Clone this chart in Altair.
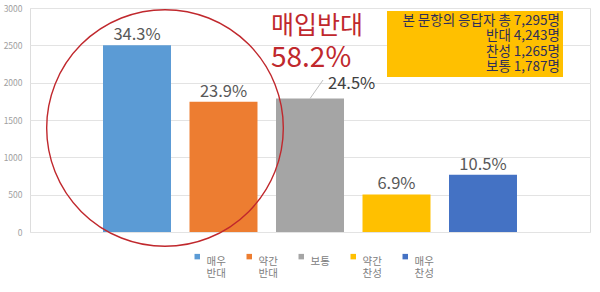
import altair as alt
import pandas as pd

categories = ["매우 반대", "약간 반대", "보통", "약간 찬성", "매우 찬성"]
counts = [2502, 1743, 1787, 503, 766]
pct_labels = ["34.3%", "23.9%", "24.5%", "6.9%", "10.5%"]
colors = ["#5b9bd5", "#ed7d31", "#a5a5a5", "#ffc000", "#4472c4"]
y_ticks = [0, 500, 1000, 1500, 2000, 2500, 3000]
box_lines = ["본 문항의 응답자 총 7,295명", "반대 4,243명", "찬성 1,265명", "보통 1,787명"]
headline = ["매입반대", "58.2%"]

FONT = "Noto Sans CJK KR"

df = pd.DataFrame({"cat": categories, "n": counts, "pct": pct_labels})

x_enc = alt.X("cat:N", sort=categories, axis=None,
              scale=alt.Scale(paddingInner=0.214, paddingOuter=0.844))
y_enc = alt.Y("n:Q", scale=alt.Scale(domain=[0, 3000], nice=False),
              axis=alt.Axis(values=y_ticks, title=None, domain=False, ticks=False, format="d",
                            labelOverlap=False, labelColor="#a0a0a0", labelFontSize=8.5,
                            labelPadding=8, labelFont=FONT, gridColor="#e3e3e3", gridWidth=1))

base = alt.Chart(df)

bars = base.mark_bar().encode(
    x=x_enc, y=y_enc,
    color=alt.Color("cat:N", sort=categories,
                    scale=alt.Scale(domain=categories, range=colors),
                    legend=alt.Legend(title=None, orient="none", legendX=162, legendY=243,
                                      direction="horizontal", columns=5,
                                      symbolType="square", symbolSize=30,
                                      symbolStrokeWidth=0,
                                      labelExpr="indexof(datum.label, ' ') > 0 ? split(datum.label, ' ') : [datum.label, ' ']",
                                      labelFont=FONT, labelFontSize=10.5,
                                      labelColor="#808080", labelBaseline="top",
                                      labelOffset=4, columnPadding=18,
                                      labelLimit=100)),
)

labels = base.transform_filter(alt.datum.cat != "보통").mark_text(
    baseline="alphabetic", dy=-5, fontSize=16.5, color="#595959", font=FONT
).encode(x=x_enc, y=y_enc, text="pct:N")

mid_label = base.transform_filter(alt.datum.cat == "보통").mark_text(
    baseline="alphabetic", align="left", dx=18, dy=-10, fontSize=16.5,
    color="#404040", font=FONT
).encode(x=x_enc, y=y_enc, text="pct:N")

leader = base.transform_filter(alt.datum.cat == "보통").mark_rule(
    color="#bfbfbf", strokeWidth=1
).encode(x=x_enc, y=y_enc, x2=alt.value(293), y2=alt.value(72))

circle = alt.Chart(pd.DataFrame({"a": [0]})).mark_point(
    shape="circle", filled=False, size=56000, stroke="#c0282d", strokeWidth=1.4, opacity=1
).encode(x=alt.value(135), y=alt.value(120))

head_df = pd.DataFrame({"t": headline, "i": [0, 1]})
head1 = alt.Chart(head_df).transform_filter(alt.datum.i == 0).mark_text(
    align="left", baseline="alphabetic", fontSize=25, color="#c0282d", font=FONT
).encode(text="t:N", x=alt.value(241), y=alt.value(26))
head2 = alt.Chart(head_df).transform_filter(alt.datum.i == 1).mark_text(
    align="left", baseline="alphabetic", fontSize=28, color="#c0282d", font=FONT
).encode(text="t:N", x=alt.value(241), y=alt.value(59))

box = alt.Chart(pd.DataFrame({"a": [0]})).mark_rect(color="#ffc000").encode(
    x=alt.value(357), x2=alt.value(533), y=alt.value(3), y2=alt.value(69))

box_df = pd.DataFrame({"t": box_lines, "i": list(range(len(box_lines)))})
box_texts = [
    alt.Chart(box_df).transform_filter(alt.datum.i == k).mark_text(
        align="right", baseline="middle", fontSize=13.5, color="#2e2e5a", font=FONT
    ).encode(text="t:N", x=alt.value(530), y=alt.value(13 + 15.3 * k))
    for k in range(len(box_lines))
]

chart = alt.layer(bars, labels, leader, mid_label, circle, head1, head2, box, *box_texts).properties(
    width=560, height=224,
    autosize=alt.AutoSizeParams(type="none"),
    padding={"left": 30, "top": 8, "right": 10, "bottom": 60},
).configure_view(stroke=None).configure(background="white")

chart.save("out.html", embed_options={"renderer": "svg", "actions": False})
